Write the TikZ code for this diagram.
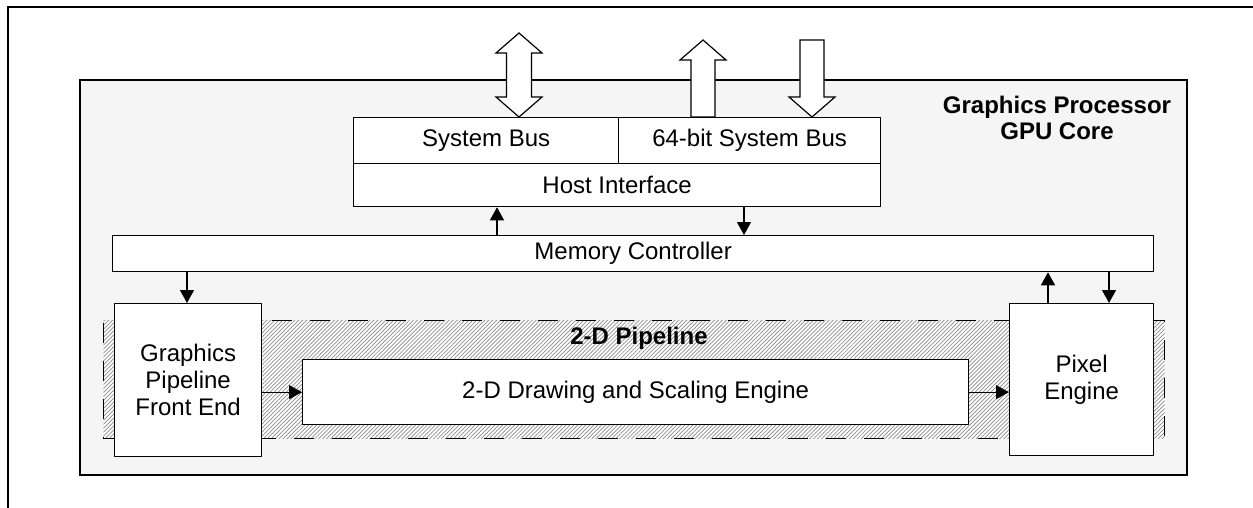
\documentclass[tikz,border=0pt]{standalone}
\usepackage{fontspec}
\setmainfont{Liberation Sans}
\usetikzlibrary{arrows.meta,patterns.meta,positioning}

\tikzset{
  blk/.style={draw, line width=1.3pt, fill=white, inner sep=0pt, anchor=north west,
    align=center, font=\fontsize{24}{27}\selectfont},
  link/.style={line width=1.3pt, -{Triangle[length=13pt,width=14pt]}},
  fat/.style={draw, line width=1.2pt, fill=white, line join=miter},
  hatchbox/.style={preaction={fill=white},
    pattern={Lines[angle=45,distance=2.8pt,line width=0.7pt]}, pattern color=black!45,
    draw, line width=1.3pt, dash pattern=on 20pt off 18pt, inner sep=0pt, anchor=north west}
}

\begin{document}
\begin{tikzpicture}[x=1pt,y=1pt]
  \useasboundingbox (0,0) rectangle (1253,-508);

  % outer frame, open at right and bottom
  \draw[line width=1.6pt] (8,-508) -- (8,-7) -- (1253,-7);

  % GPU core
  \node[draw, line width=1.6pt, fill=black!4, inner sep=0pt, anchor=north west,
    minimum width=1107, minimum height=395] (core) at (79,-79) {};
  \node[font=\bfseries\fontsize{24}{26}\selectfont, align=center] (title) at (1057,-118)
    {Graphics Processor\\GPU Core};

  % wide bus arrows
  \draw[fat] (519,-33) -- (542,-53) -- (531.5,-53) -- (531.5,-97) -- (542,-97)
    -- (519,-117) -- (496,-97) -- (506.5,-97) -- (506.5,-53) -- (496,-53) -- cycle;
  \draw[fat] (703,-40) -- (726,-60) -- (715,-60) -- (715,-117) -- (691,-117)
    -- (691,-60) -- (680,-60) -- cycle;
  \draw[fat] (800,-40) -- (824,-40) -- (824,-97) -- (835,-97) -- (812,-117)
    -- (789,-97) -- (800,-97) -- cycle;

  % host interface
  \node[blk, minimum width=265, minimum height=46] (sysbus) at (353,-117) {System Bus};
  \node[blk, minimum width=262, minimum height=46] (bus64) at (618,-117) {64-bit System Bus};
  \node[blk, minimum width=527, minimum height=43] (host) at (353,-163) {Host Interface};

  % memory controller
  \node[blk, minimum width=1041, minimum height=36] (mem) at (112,-235) {Memory Controller};

  % 2-D pipeline
  \node[hatchbox, minimum width=1061, minimum height=118] (pipe) at (103,-320) {};
  \node[font=\bfseries\fontsize{24}{26}\selectfont] (pipelbl) at (639,-338) {2-D Pipeline};
  \node[blk, minimum width=147, minimum height=153] (front) at (114,-303)
    {Graphics\\Pipeline\\Front End};
  \node[blk, minimum width=666, minimum height=65] (draweng) at (302,-359)
    {2-D Drawing and Scaling Engine};
  \node[blk, minimum width=144, minimum height=152] (pixel) at (1009,-303)
    {Pixel\\Engine};

  % connectors
  \draw[link] (mem.north -| 497,0) -- (host.south -| 497,0);
  \draw[link] (host.south -| 744,0) -- (mem.north -| 744,0);
  \draw[link] (mem.south -| 187,0) -- (front.north -| 187,0);
  \draw[link] (pixel.north -| 1048,0) -- (mem.south -| 1048,0);
  \draw[link] (mem.south -| 1109,0) -- (pixel.north -| 1109,0);
  \draw[link] (front.east |- draweng.east) -- (draweng.west);
  \draw[link] (draweng.east) -- (pixel.west |- draweng.east);
\end{tikzpicture}
\end{document}
